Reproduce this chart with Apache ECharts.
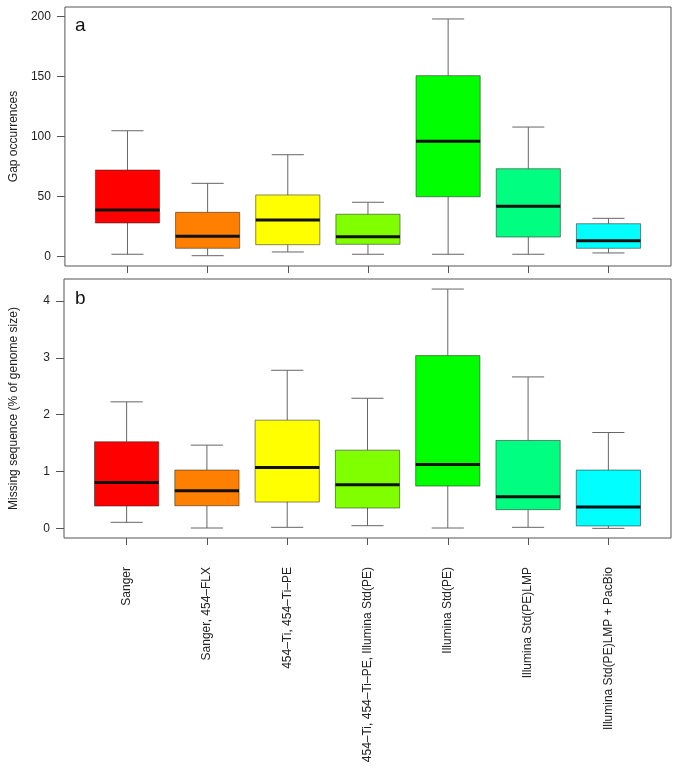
<!DOCTYPE html>
<html>
<head>
<meta charset="utf-8">
<script src="https://cdn.jsdelivr.net/npm/echarts@6/dist/echarts.min.js"></script>
<style>
  html, body { margin: 0; padding: 0; background: #fff; }
  #chart { width: 678px; height: 768px; }
</style>
</head>
<body>
<div id="chart"></div>
<script>
// sequencing strategies (x categories)
const categories = [
    "Sanger",
    "Sanger, 454–FLX",
    "454–Ti, 454–Ti–PE",
    "454–Ti, 454–Ti–PE, Illumina Std(PE)",
    "Illumina Std(PE)",
    "Illumina Std(PE)LMP",
    "Illumina Std(PE)LMP + PacBio",
];
const boxColors = ["#ff0000", "#ff8000", "#ffff00", "#80ff00", "#00ff00", "#00ff80", "#00ffff"];

// panel a: gap occurrences
const gapLow = [1.7, 0.5, 3.6, 1.7, 1.7, 1.7, 2.8];
const gapQ1 = [27.8, 6.7, 9.7, 10.0, 49.7, 16.1, 6.7];
const gapMed = [38.6, 16.7, 30.3, 16.4, 96.0, 41.7, 13.0];
const gapQ3 = [72.0, 36.7, 51.2, 35.1, 150.8, 73.1, 27.2];
const gapHigh = [104.8, 60.9, 84.8, 45.1, 198.1, 107.9, 31.7];
const gapTicks = [0, 50, 100, 150, 200];

// panel b: missing sequence (% of genome size)
const missLow = [0.106, 0.006, 0.018, 0.047, 0.006, 0.018, 0.0];
const missQ1 = [0.393, 0.398, 0.463, 0.358, 0.745, 0.329, 0.042];
const missMed = [0.809, 0.662, 1.073, 0.768, 1.125, 0.557, 0.376];
const missQ3 = [1.524, 1.026, 1.905, 1.377, 3.041, 1.547, 1.026];
const missHigh = [2.227, 1.465, 2.783, 2.29, 4.213, 2.666, 1.687];
const missTicks = [0, 1, 2, 3, 4];

const positions = categories.map((c, i) => i + 1);
const FONT = "Liberation Sans, Arial, sans-serif";

function rows(low, q1, med, q3, high) {
    return positions.map((p, i) => [p, low[i], q1[i], med[i], q3[i], high[i]]);
}

// R-style box: half-width staples, solid whiskers, thick black median
function renderBox(params, api) {
    const x = api.value(0);
    const pLow = api.coord([x, api.value(1)]);
    const pQ1 = api.coord([x, api.value(2)]);
    const pMed = api.coord([x, api.value(3)]);
    const pQ3 = api.coord([x, api.value(4)]);
    const pHigh = api.coord([x, api.value(5)]);
    const w = api.size([0.8, 0])[0];
    const cx = pMed[0];
    const whisker = { stroke: "#666", lineWidth: 1 };
    return {
        type: "group",
        children: [
            { type: "line", shape: { x1: cx, y1: pHigh[1], x2: cx, y2: pQ3[1] }, style: whisker },
            { type: "line", shape: { x1: cx, y1: pQ1[1], x2: cx, y2: pLow[1] }, style: whisker },
            { type: "line", shape: { x1: cx - w / 4, y1: pHigh[1], x2: cx + w / 4, y2: pHigh[1] }, style: whisker },
            { type: "line", shape: { x1: cx - w / 4, y1: pLow[1], x2: cx + w / 4, y2: pLow[1] }, style: whisker },
            {
                type: "rect",
                shape: { x: cx - w / 2, y: pQ3[1], width: w, height: pQ1[1] - pQ3[1] },
                style: { fill: boxColors[params.dataIndex], stroke: "rgba(40,40,40,0.55)", lineWidth: 1 },
            },
            { type: "line", shape: { x1: cx - w / 2, y1: pMed[1], x2: cx + w / 2, y2: pMed[1] }, style: { stroke: "#111", lineWidth: 3 } },
        ],
    };
}

function xAxis(gridIndex, showLabels) {
    return {
        type: "value",
        gridIndex: gridIndex,
        position: "bottom",
        min: 0.22,
        max: 7.78,
        splitLine: { show: false },
        axisLine: { show: false, onZero: false },
        axisTick: { show: true, length: 7, customValues: positions, lineStyle: { color: "#555" } },
        axisLabel: {
            show: showLabels,
            customValues: positions,
            rotate: 90,
            margin: 29,
            fontFamily: FONT,
            fontSize: 12,
            color: "#222",
            formatter: (v) => categories[Math.round(v) - 1] || "",
        },
    };
}

function yAxis(gridIndex, name, min, max, ticks) {
    return {
        type: "value",
        gridIndex: gridIndex,
        min: min,
        max: max,
        name: name,
        nameLocation: "middle",
        nameGap: 44,
        nameTextStyle: { fontFamily: FONT, fontSize: 12, color: "#222" },
        splitLine: { show: false },
        axisLine: { show: false, onZero: false },
        axisTick: { show: true, length: 8, customValues: ticks, lineStyle: { color: "#555" } },
        axisLabel: {
            customValues: ticks,
            margin: 14,
            fontFamily: FONT,
            fontSize: 12,
            color: "#222",
        },
    };
}

const chart = echarts.init(document.getElementById("chart"));
chart.setOption({
    backgroundColor: "#fff",
    animation: false,
    title: [
        { text: "a", left: 75, top: 16, padding: 0, textStyle: { fontFamily: FONT, fontSize: 19, fontWeight: "normal", color: "#111" } },
        { text: "b", left: 75, top: 289, padding: 0, textStyle: { fontFamily: FONT, fontSize: 19, fontWeight: "normal", color: "#111" } },
    ],
    grid: [
        { left: 62, right: 7, top: 7, height: 259, show: true, borderColor: "#555", borderWidth: 1 },
        { left: 62, right: 7, top: 279, height: 259, show: true, borderColor: "#555", borderWidth: 1 },
    ],
    xAxis: [xAxis(0, false), xAxis(1, true)],
    yAxis: [
        yAxis(0, "Gap occurrences", -8.1, 208.1, gapTicks),
        yAxis(1, "Missing sequence (% of genome size)", -0.17, 4.39, missTicks),
    ],
    series: [
        {
            name: "Gap occurrences",
            type: "custom",
            xAxisIndex: 0,
            yAxisIndex: 0,
            encode: { x: 0, y: [1, 2, 3, 4, 5] },
            renderItem: renderBox,
            data: rows(gapLow, gapQ1, gapMed, gapQ3, gapHigh),
        },
        {
            name: "Missing sequence",
            type: "custom",
            xAxisIndex: 1,
            yAxisIndex: 1,
            encode: { x: 0, y: [1, 2, 3, 4, 5] },
            renderItem: renderBox,
            data: rows(missLow, missQ1, missMed, missQ3, missHigh),
        },
    ],
});
</script>
</body>
</html>
